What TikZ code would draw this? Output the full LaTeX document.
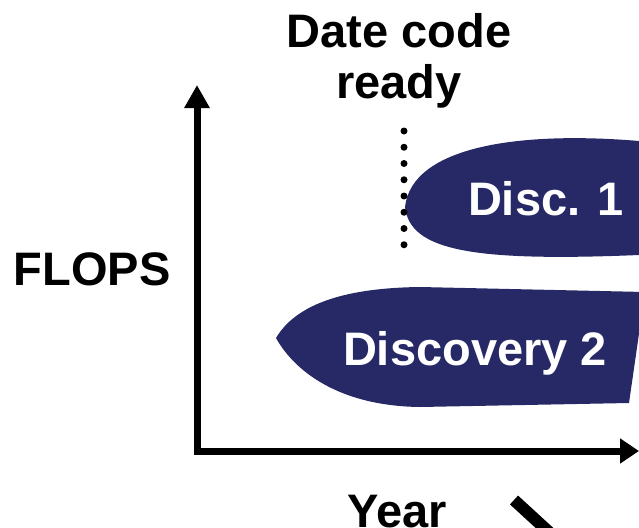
\documentclass[tikz,border=0pt]{standalone}
\usepackage{fontspec}
\setmainfont{Liberation Sans}
\usetikzlibrary{arrows.meta}
\definecolor{navy}{RGB}{38,41,102}
\tikzset{
  lbl/.style={font=\fontsize{47}{50}\selectfont\bfseries, anchor=base, inner sep=0pt},
  wlbl/.style={lbl, text=white},
  blob/.style={fill=navy, draw=none},
  axis/.style={line width=7pt, line join=miter,
    {Triangle[length=23pt,width=24pt]}-{Triangle[length=19pt,width=24pt]}},
}
\begin{document}
\begin{tikzpicture}[x=1pt,y=-1pt]
\useasboundingbox (0,0) rectangle (639,527);
% blobs
\path[blob] (639,141) .. controls (520,131) and (412,146) .. (405,207)
  .. controls (410,250) and (470,262) .. (639,255) -- cycle;
\path[blob] (276,338) .. controls (295,306) and (340,288) .. (420,287)
  -- (645,292) -- (629,403) -- (420,407)
  .. controls (340,406) and (295,372) .. (276,338) -- cycle;
% axes
\coordinate (ytop) at (197,85);
\coordinate (orig) at (197,451);
\coordinate (xend) at (639,451);
\draw[axis] (ytop) -- (orig) -- (xend);
% dotted marker
\coordinate (dtop) at (404,131);
\coordinate (dbot) at (404,261);
\draw[line width=7pt, line cap=round, dash pattern=on 0pt off 16.25pt] (dtop) -- (dbot);
% diagonal fragment
\coordinate (ds) at (514,500);
\coordinate (de) at (562,544);
\draw[line width=12pt] (ds) -- (de);
% labels
\node[lbl] (date) at (399,48) {Date code};
\node[lbl] (ready) at (399,98) {ready};
\node[lbl] (flops) at (92,285) {FLOPS};
\node[lbl] (year) at (397,527) {Year};
\node[wlbl] (d1) at (546,215) {Disc. 1};
\node[wlbl] (d2) at (475,365) {Discovery 2};
\end{tikzpicture}
\end{document}
